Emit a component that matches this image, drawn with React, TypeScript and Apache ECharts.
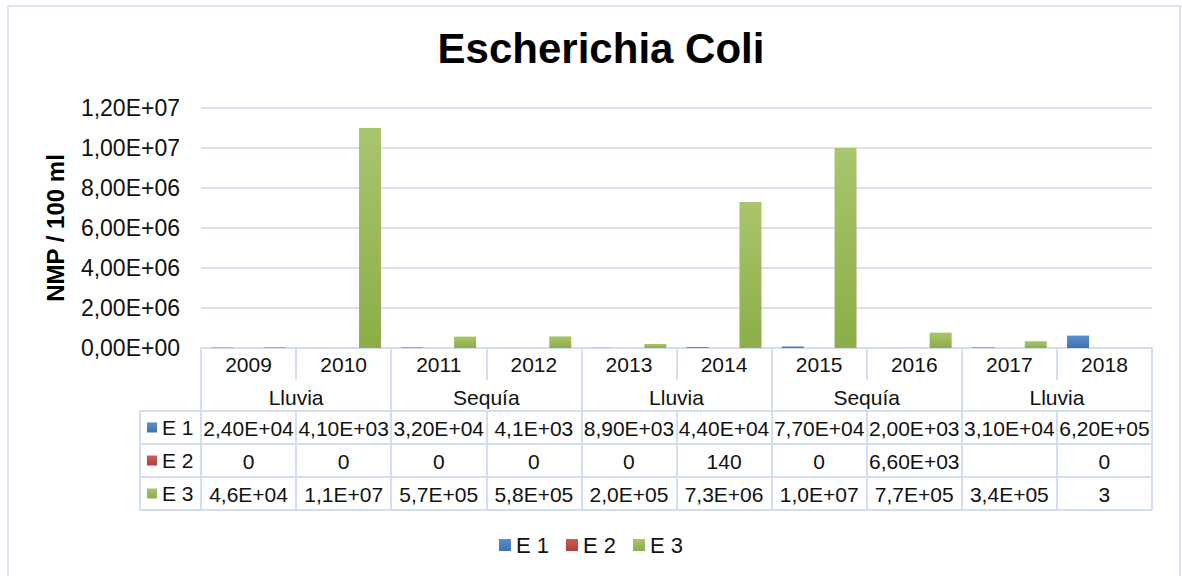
import React, { useEffect, useRef } from "react";
import * as echarts from "echarts";

const years = ["2009", "2010", "2011", "2012", "2013", "2014", "2015", "2016", "2017", "2018"];
const seasons = ["Lluvia", "Sequía", "Lluvia", "Sequía", "Lluvia"];
const e1Labels = ["2,40E+04", "4,10E+03", "3,20E+04", "4,1E+03", "8,90E+03", "4,40E+04", "7,70E+04", "2,00E+03", "3,10E+04", "6,20E+05"];
const e2Labels = ["0", "0", "0", "0", "0", "140", "0", "6,60E+03", "", "0"];
const e3Labels = ["4,6E+04", "1,1E+07", "5,7E+05", "5,8E+05", "2,0E+05", "7,3E+06", "1,0E+07", "7,7E+05", "3,4E+05", "3"];
const seriesNames = ["E 1", "E 2", "E 3"];

const toNum = (s: string) => (s === "" ? null : parseFloat(s.replace(",", ".")));

const FONT = "'Liberation Sans', Arial, sans-serif";
const LINE = "#d3dff0";
const TXT = "#111";

const GRID_L = 201;
const GRID_R = 1152;
const GRID_T = 108;
const GRID_B = 348;
const ROW_TOP = 411;
const ROW_H = 33;
const COL_L = 140;

const grad = (top: string, bottom: string) =>
  new echarts.graphic.LinearGradient(0, 0, 0, 1, [
    { offset: 0, color: top },
    { offset: 1, color: bottom },
  ]);

const fmtSci = (v: number) => {
  if (v === 0) return "0,00E+00";
  const e = Math.floor(Math.log10(v) + 1e-9);
  const m = v / Math.pow(10, e);
  return `${m.toFixed(2).replace(".", ",")}E+${String(e).padStart(2, "0")}`;
};

export default function App() {
  const ref = useRef<HTMLDivElement>(null);

  useEffect(() => {
    if (!ref.current) return;
    const chart = echarts.init(ref.current, null, { renderer: "svg" });

    const rows = [
      { name: seriesNames[0], labels: e1Labels, color: grad("#5b8dce", "#3f70b1") },
      { name: seriesNames[1], labels: e2Labels, color: grad("#d05b56", "#b0403c") },
      { name: seriesNames[2], labels: e3Labels, color: grad("#a9c56e", "#8bae46") },
    ];

    const labelBase = { fontFamily: FONT, fontSize: 21, color: TXT, verticalAlign: "middle" as const, interval: 0 };
    const tickBase = (length: number) => ({ show: true, interval: 0, length, lineStyle: { color: LINE, width: 2 } });

    const xAxes: any[] = [
      {
        type: "category",
        data: years,
        position: "bottom",
        axisLine: { show: true, lineStyle: { color: LINE, width: 2 } },
        axisTick: tickBase(32),
        axisLabel: { ...labelBase, margin: 16 },
      },
      {
        type: "category",
        data: seasons.map((_, i) => "s" + i),
        position: "bottom",
        axisLine: { show: false },
        axisTick: tickBase(63),
        axisLabel: { ...labelBase, margin: 49, formatter: (_v: string, i: number) => seasons[i] },
      },
      ...rows.map((r, k) => ({
        type: "category",
        data: years.map((_, i) => `r${k}_${i}`),
        position: "bottom",
        offset: ROW_TOP - GRID_B + ROW_H * k,
        axisLine: { show: true, lineStyle: { color: LINE, width: 2 } },
        axisTick: tickBase(ROW_H),
        axisLabel: { ...labelBase, margin: 17, formatter: (_v: string, i: number) => r.labels[i] },
      })),
    ];

    const tableBottom = ROW_TOP + ROW_H * rows.length;
    const graphics: any[] = [
      {
        type: "rect",
        silent: true,
        z: -10,
        shape: { x: 8, y: 6, width: 1172, height: 582 },
        style: { fill: "none", stroke: "#d9e3f1", lineWidth: 2 },
      },
      {
        type: "line",
        silent: true,
        shape: { x1: COL_L, y1: tableBottom, x2: GRID_R, y2: tableBottom },
        style: { stroke: LINE, lineWidth: 2 },
      },
      {
        type: "line",
        silent: true,
        shape: { x1: COL_L, y1: ROW_TOP, x2: COL_L, y2: tableBottom },
        style: { stroke: LINE, lineWidth: 2 },
      },
    ];
    rows.forEach((r, k) => {
      const y = ROW_TOP + ROW_H * k;
      graphics.push({
        type: "line",
        silent: true,
        shape: { x1: COL_L, y1: y, x2: GRID_L, y2: y },
        style: { stroke: LINE, lineWidth: 2 },
      });
      graphics.push({
        type: "rect",
        silent: true,
        shape: { x: 147, y: y + ROW_H / 2 - 5, width: 10, height: 10 },
        style: { fill: r.color },
      });
      graphics.push({
        type: "text",
        silent: true,
        x: 162,
        y: y + ROW_H / 2,
        style: { text: r.name, font: `21px ${FONT}`, fill: TXT, verticalAlign: "middle", align: "left" },
      });
    });

    chart.setOption({
      animation: false,
      backgroundColor: "#fff",
      title: {
        text: "Escherichia Coli",
        left: 596,
        textAlign: "center",
        top: 22,
        textStyle: { fontFamily: FONT, fontSize: 42, fontWeight: "bold", color: "#000" },
      },
      grid: { left: GRID_L, top: GRID_T, width: GRID_R - GRID_L, height: GRID_B - GRID_T, containLabel: false },
      xAxis: xAxes,
      yAxis: {
        type: "value",
        min: 0,
        max: 12000000,
        interval: 2000000,
        name: "NMP / 100 ml",
        nameLocation: "middle",
        nameRotate: 90,
        nameGap: 134,
        nameTextStyle: { fontFamily: FONT, fontSize: 24, fontWeight: "bold", color: "#000" },
        axisLine: { show: false },
        axisTick: { show: false },
        axisLabel: { fontFamily: FONT, fontSize: 23, color: TXT, margin: 21, formatter: (v: number) => fmtSci(v) },
        splitLine: { show: true, lineStyle: { color: "#d9e2f1", width: 2 } },
      },
      legend: {
        data: seriesNames,
        left: "center",
        top: 529,
        icon: "rect",
        itemWidth: 12,
        itemHeight: 12,
        itemGap: 17,
        textStyle: { fontFamily: FONT, fontSize: 22, color: TXT },
      },
      graphic: graphics,
      series: rows.map((r) => ({
        name: r.name,
        type: "bar",
        xAxisIndex: 0,
        barWidth: 22,
        barGap: "20%",
        data: r.labels.map(toNum),
        itemStyle: { color: r.color },
      })),
    });

    return () => chart.dispose();
  }, []);

  return (
    <div
      ref={ref}
      style={{ position: "fixed", left: 0, top: 0, width: 1182, height: 576, background: "#fff" }}
    />
  );
}
